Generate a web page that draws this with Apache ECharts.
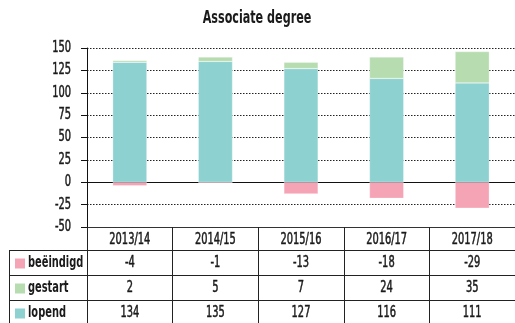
<!DOCTYPE html>
<html>
<head>
<meta charset="utf-8">
<script src="https://cdn.jsdelivr.net/npm/echarts@6/dist/echarts.min.js"></script>
<style>
  html, body { margin: 0; padding: 0; background: #fff; }
  #chart { width: 515px; height: 323px; }
</style>
</head>
<body>
<div id="chart"></div>
<script>
// Academic years shown on the category axis
const years = ['2013/14', '2014/15', '2015/16', '2016/17', '2017/18'];
// Student counts per status
const lopend = [134, 135, 127, 116, 111];
const gestart = [2, 5, 7, 24, 35];
const beeindigd = [-4, -1, -13, -18, -29];
// Value-axis ticks
const yMin = -50, yMax = 150, yStep = 25;
const yTicks = [150, 125, 100, 75, 50, 25, 0, -25, -50];

const FONT = "'DejaVu Sans Condensed', 'DejaVu Sans', sans-serif";
const SQUEEZE = 0.73; // horizontal squeeze for a narrow typeface look
const INK = '#1a1a1a';
const COLORS = { lopend: '#8dd1d0', gestart: '#b6dcb0', beeindigd: '#f5a4b6' };

// Rows of the data table under the chart (top to bottom)
const rows = [
  { name: 'beëindigd', values: beeindigd, color: COLORS.beeindigd },
  { name: 'gestart', values: gestart, color: COLORS.gestart },
  { name: 'lopend', values: lopend, color: COLORS.lopend }
];

const chart = echarts.init(document.getElementById('chart'), null, { renderer: 'canvas' });

const barStyle = (color) => ({
  color: color,
  borderColor: 'rgba(255,255,255,0.6)',
  borderWidth: 0.5
});

chart.setOption({
  animation: false,
  backgroundColor: '#fff',
  grid: { left: 87, right: 0, top: 48, height: 179 },
  xAxis: [
    {
      // zero line through the bars
      type: 'category',
      data: years,
      axisLine: { onZero: true, lineStyle: { color: '#111', width: 1 } },
      axisTick: { show: false },
      axisLabel: { show: false }
    },
    {
      // table header edge; ticks form the column dividers
      type: 'category',
      data: years,
      position: 'bottom',
      axisLine: { onZero: false, lineStyle: { color: '#333', width: 1 } },
      axisTick: { show: true, interval: 0, length: 100, lineStyle: { color: '#222', width: 1 } },
      axisLabel: { show: false }
    }
  ],
  yAxis: {
    type: 'value',
    min: yMin,
    max: yMax,
    interval: yStep,
    axisLine: { show: true, lineStyle: { color: '#111', width: 1 } },
    axisTick: { show: true, length: 6, lineStyle: { color: '#111' } },
    axisLabel: { show: false },
    splitLine: { show: true, lineStyle: { color: '#222', type: [1.5, 1.5], width: 1 } }
  },
  series: [
    { name: 'lopend', type: 'bar', stack: 'total', data: lopend, barWidth: '40%', itemStyle: barStyle(COLORS.lopend) },
    { name: 'gestart', type: 'bar', stack: 'total', data: gestart, barWidth: '40%', itemStyle: barStyle(COLORS.gestart) },
    { name: 'beëindigd', type: 'bar', stack: 'total', data: beeindigd, barWidth: '40%', itemStyle: barStyle(COLORS.beeindigd) }
  ]
});

// Narrow text element; a thin outline gives a medium weight
function label(str, x, y, size, weight, align) {
  const bold = weight === 'bold';
  return {
    type: 'text', x: x, y: y, scaleX: SQUEEZE, silent: true,
    style: {
      text: str, fontFamily: FONT, fontSize: size, fontWeight: bold ? 'bold' : 'normal', fill: INK,
      stroke: bold ? null : INK, lineWidth: bold ? 0 : 0.5,
      align: align || 'center', verticalAlign: 'middle',
      textAlign: align || 'center', textVerticalAlign: 'middle'
    }
  };
}

// Title, axis labels and the value table beneath the plot
function drawOverlay() {
  const tableTop = 227, headerH = 23, rowH = 25;
  const leftX = 9;
  const right = chart.getWidth();
  const axisX = 87;
  const elements = [];
  const lineStyle = { stroke: '#222', lineWidth: 1 };

  elements.push(label('Associate degree', 257, 19, 17, 'bold'));

  // value-axis labels
  yTicks.forEach((v) => {
    const y = chart.convertToPixel({ yAxisIndex: 0 }, v);
    elements.push(label(String(v), axisX - 16, y, 15, 'medium', 'right'));
  });

  // year labels in the header row
  years.forEach((yr, i) => {
    const cx = chart.convertToPixel({ xAxisIndex: 1 }, i);
    elements.push(label(yr, cx, tableTop + headerH / 2 + 2, 15, 'medium'));
  });

  // horizontal row borders
  for (let r = 0; r <= rows.length; r++) {
    const y = Math.round(tableTop + headerH + r * rowH) + 0.5;
    elements.push({ type: 'line', shape: { x1: leftX, y1: y, x2: right, y2: y }, style: lineStyle, silent: true });
  }
  // left border of the label column
  elements.push({ type: 'line', shape: { x1: leftX + 0.5, y1: tableTop + headerH, x2: leftX + 0.5, y2: tableTop + headerH + rows.length * rowH }, style: lineStyle, silent: true });

  rows.forEach((row, r) => {
    const cy = tableTop + headerH + r * rowH + rowH / 2 + 1;
    elements.push({ type: 'rect', shape: { x: leftX + 6, y: cy - 5, width: 10, height: 10 }, style: { fill: row.color }, silent: true });
    elements.push(label(row.name, leftX + 19, cy, 15, 'bold', 'left'));
    row.values.forEach((v, i) => {
      const cx = chart.convertToPixel({ xAxisIndex: 0 }, i);
      elements.push(label(String(v), cx, cy, 15, 'medium'));
    });
  });

  chart.setOption({ graphic: { elements: elements } });
}
drawOverlay();
</script>
</body>
</html>
